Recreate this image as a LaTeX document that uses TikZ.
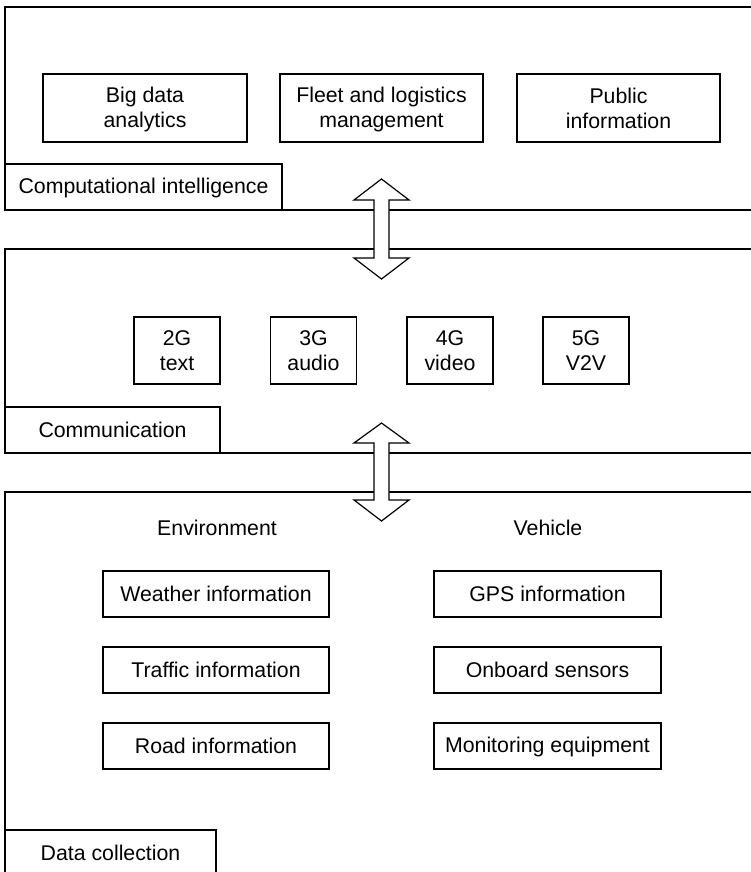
\documentclass[tikz,border=0pt]{standalone}
\usepackage{fontspec}
\setmainfont{Liberation Sans}
\newcommand\mystrut{\rule[-0.142em]{0pt}{1em}}
\begin{document}
\begin{tikzpicture}[x=1pt,y=-1pt,
  line width=1.3pt,
  every node/.style={font=\fontsize{21.3}{25}\selectfont, text=black},
  box/.style={draw, align=center, minimum height=68pt, inner sep=0pt},
  smallbox/.style={draw, align=center, minimum width=86pt, minimum height=67pt, inner sep=0pt},
  infobox/.style={draw, align=center, minimum width=226pt, minimum height=46pt, inner sep=0pt},
  tag/.style={draw, align=center, minimum height=46pt, inner sep=0pt},
  bigarrow/.style={draw, fill=white, line width=1.2pt, line join=miter}
]
\useasboundingbox (0,0) rectangle (750,872);

% panels
\draw (755,7) -- (5,7) -- (5,210) -- (755,210);
\draw (755,249) -- (5,249) -- (5,453) -- (755,453);
\draw (755,492) -- (5,492) -- (5,880);

% panel labels
\node[tag, minimum width=277pt] (ci) at (143.5,187) {\mystrut Computational intelligence};
\node[tag, minimum width=215pt] (comm) at (112.5,430) {\mystrut Communication};
\node[tag, minimum width=211pt] (dc) at (110.5,853) {\mystrut Data collection};

% computational intelligence
\node[box, minimum width=204pt] (bda) at (145,108) {\mystrut Big data\\\mystrut analytics};
\node[box, minimum width=203pt] (fleet) at (381.5,108) {\mystrut Fleet and logistics\\\mystrut management};
\node[box, minimum width=203pt] (pub) at (618.5,108) {\mystrut Public\\\mystrut information};

% communication
\node[smallbox] (g2) at (177,350.5) {\mystrut 2G\\\mystrut text};
\node[smallbox] (g3) at (313.5,350.5) {\mystrut 3G\\\mystrut audio};
\node[smallbox] (g4) at (450,350.5) {\mystrut 4G\\\mystrut video};
\node[smallbox] (g5) at (586,350.5) {\mystrut 5G\\\mystrut V2V};

% data collection
\node (env) at (217,528) {\mystrut Environment};
\node (veh) at (548,528) {\mystrut Vehicle};
\node[infobox] (weather) at (216,594) {\mystrut Weather information};
\node[infobox] (traffic) at (216,670) {\mystrut Traffic information};
\node[infobox] (road) at (216,746) {\mystrut Road information};
\node[infobox, minimum width=227pt] (gps) at (547.5,594) {\mystrut GPS information};
\node[infobox, minimum width=227pt] (onboard) at (547.5,670) {\mystrut Onboard sensors};
\node[infobox, minimum width=227pt] (monitor) at (547.5,746) {\mystrut Monitoring equipment};

% double arrows
\draw[bigarrow] (381.5,179) -- (409,200) -- (389,200) -- (389,258) -- (409,258)
  -- (381.5,279) -- (354,258) -- (374,258) -- (374,200) -- (354,200) -- cycle;
\draw[bigarrow] (381.5,423) -- (409,443) -- (389,443) -- (389,500) -- (409,500)
  -- (381.5,521) -- (354,500) -- (374,500) -- (374,443) -- (354,443) -- cycle;
\end{tikzpicture}
\end{document}
